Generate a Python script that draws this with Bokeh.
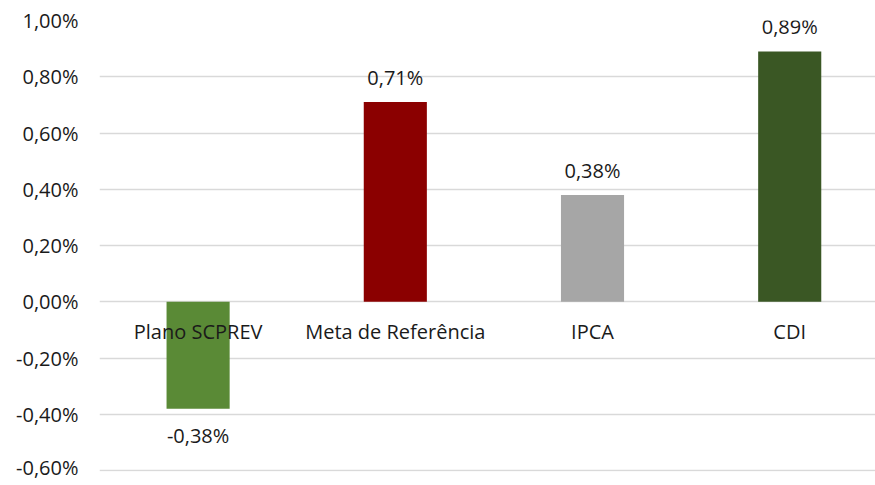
from bokeh.plotting import figure
from bokeh.models import Range1d, ColumnDataSource, FixedTicker, CustomJSTickFormatter
from bokeh.core.properties import value
from bokeh.embed import file_html
from bokeh.resources import INLINE

categories = ["Plano SCPREV", "Meta de Referência", "IPCA", "CDI"]
values = [-0.38, 0.71, 0.38, 0.89]
colors = ["#5A8A36", "#8B0000", "#A6A6A6", "#3A5724"]
y_ticks = [-0.6, -0.4, -0.2, 0.0, 0.2, 0.4, 0.6, 0.8, 1.0]

FONT = "Open Sans"
FS = "20px"
TC = "#1a1a1a"
xs = [i + 0.5 for i in range(len(categories))]
labels = [("%.2f" % v).replace(".", ",") + "%" for v in values]

p = figure(width=875, height=480, output_backend="svg", toolbar_location=None,
           x_range=Range1d(0, 3.935), y_range=Range1d(-0.603, 1.0),
           min_border_left=99, min_border_right=0, min_border_top=20, min_border_bottom=9)
p.outline_line_color = None
p.xaxis.visible = False
p.xgrid.grid_line_color = None
p.ygrid.grid_line_color = "#D9D9D9"
p.ygrid.grid_line_width = 1.3
p.yaxis.ticker = FixedTicker(ticks=y_ticks)
p.yaxis.formatter = CustomJSTickFormatter(code="return tick.toFixed(2).replace('.', ',') + '%';")
p.yaxis.axis_line_color = None
p.yaxis.major_tick_line_color = None
p.yaxis.minor_tick_line_color = None
p.yaxis.major_label_standoff = 15
p.yaxis.major_label_text_font = FONT
p.yaxis.major_label_text_font_size = FS
p.yaxis.major_label_text_color = TC

src = ColumnDataSource(dict(x=xs, top=values, color=colors, cat=categories, lab=labels))
p.vbar(x="x", top="top", bottom=0, width=0.32, fill_color="color", line_color=None, source=src)

pos = ColumnDataSource(dict(x=[x for x, v in zip(xs, values) if v >= 0],
                            y=[v for v in values if v >= 0],
                            t=[l for l, v in zip(labels, values) if v >= 0]))
neg = ColumnDataSource(dict(x=[x for x, v in zip(xs, values) if v < 0],
                            y=[v for v in values if v < 0],
                            t=[l for l, v in zip(labels, values) if v < 0]))
p.text(x="x", y="y", text="t", source=pos, text_align="center", text_baseline="bottom",
       y_offset=-11, text_font=value(FONT), text_font_size=FS, text_color=TC)
p.text(x="x", y="y", text="t", source=neg, text_align="center", text_baseline="top",
       y_offset=13, text_font=value(FONT), text_font_size=FS, text_color=TC)
p.text(x="x", y=0, text="cat", source=src, text_align="center", text_baseline="middle",
       y_offset=30, text_font=value(FONT), text_font_size=FS, text_color=TC)

open("out.html", "w").write(file_html(p, INLINE))
